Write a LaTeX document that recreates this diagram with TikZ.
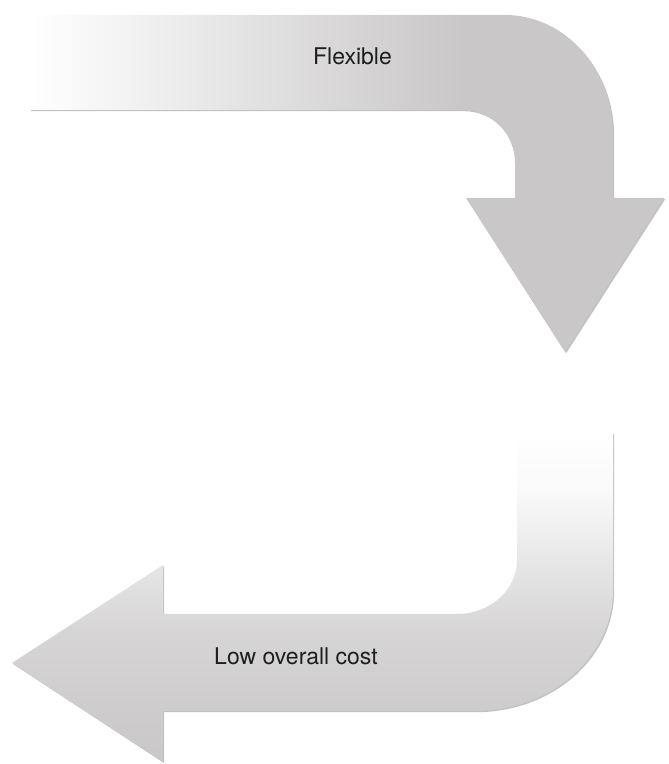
\documentclass[tikz,border=0pt]{standalone}
\usepackage{fontspec}
\setmainfont{TeX Gyre Heros}
\usetikzlibrary{shadows}
\definecolor{arrowgray}{RGB}{201,199,200}
\definecolor{labelink}{RGB}{30,30,30}
\pgfdeclarehorizontalshading{flexfade}{100bp}{color(0bp)=(white); color(25bp)=(white); color(59bp)=(arrowgray); color(100bp)=(arrowgray)}
\pgfdeclareverticalshading{costfade}{100bp}{color(0bp)=(arrowgray); color(25bp)=(arrowgray); color(34bp)=(arrowgray!90!white); color(45bp)=(arrowgray!75!white); color(55bp)=(arrowgray!45!white); color(66bp)=(arrowgray!10!white); color(75bp)=(white); color(100bp)=(white)}

\begin{document}
\begin{tikzpicture}[x=1pt, y=1pt,
    bentarrow/.style={drop shadow={shadow xshift=1.2pt, shadow yshift=-1.2pt, opacity=0.4, fill=black!60}},
    label/.style={font=\fontsize{23}{27}\selectfont, text=labelink, anchor=base, inner sep=0pt}]

  \useasboundingbox (0,0) rectangle (669,764);

  \shade[bentarrow, shading=flexfade]
    (30,749) -- (505,749) .. controls (565,749) and (613,695) .. (613,629)
    -- (613,566) -- (664,566) -- (565,412) -- (466,566) -- (515,566) -- (515,601)
    .. controls (515,630) and (492,654) .. (463,654) -- (30,654) -- cycle;

  \shade[bentarrow, shading=costfade]
    (517,331) -- (613,331) -- (613,174) .. controls (613,107) and (551,53) .. (475,53)
    -- (163,53) -- (163,2) -- (12,101) -- (163,199) -- (163,150) -- (457,150)
    .. controls (490,150) and (517,174) .. (517,204) -- cycle;

  \node[label] (flexible) at (352.5,699) {Flexible};
  \node[label] (lowcost) at (296,99) {Low overall cost};
\end{tikzpicture}
\end{document}
